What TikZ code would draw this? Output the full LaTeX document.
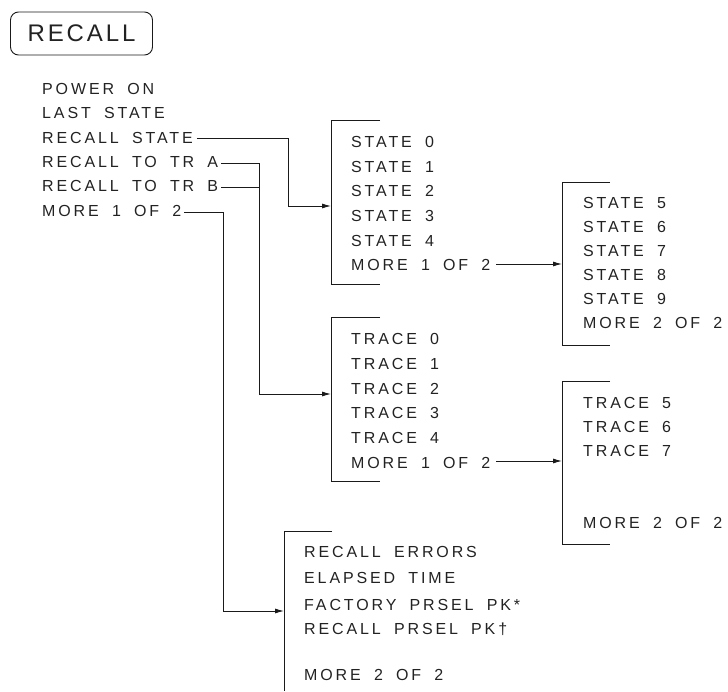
\documentclass[tikz,border=0pt]{standalone}
\usepackage{fontspec}
\setmainfont{Liberation Sans}[LetterSpace=18,WordSpace=1.8]
\usetikzlibrary{arrows.meta}
\definecolor{txt}{HTML}{222222}
\definecolor{ln}{HTML}{1A1A1A}
\tikzset{
  item/.style={anchor=west, inner sep=0pt, text height=11.5pt, text depth=0pt,
    font=\fontsize{16}{19}\selectfont, text=txt},
  conn/.style={line width=0.9pt, draw=ln},
  arr/.style={conn, -{Latex[length=9pt,width=5pt]}},
  brk/.style={line width=0.9pt, draw=ln},
  titlebox/.style={draw=ln, line width=0.9pt, rounded corners=8pt, minimum width=142pt,
    minimum height=43pt, inner sep=0pt, font=\fontsize{24}{28}\selectfont\addfontfeature{LetterSpace=12}, text=txt}
}
\begin{document}
\begin{tikzpicture}[x=1pt,y=-1pt]
\useasboundingbox (0,0) rectangle (728,691);

\node[titlebox] (title) at (81.5,33.5) {RECALL};

% left menu
\node[item] (p1)  at (42,88.5)  {POWER ON};
\node[item] (p2)  at (42,112.9) {LAST STATE};
\node[item] (rs)  at (42,137.3) {RECALL STATE};
\node[item] (tra) at (42,161.7) {RECALL TO TR A};
\node[item] (trb) at (42,186.1) {RECALL TO TR B};
\node[item] (m12) at (42,210.5) {MORE 1 OF 2};

% state menu 1
\node[item] (s0) at (351,142)   {STATE 0};
\node[item] (s1) at (351,166.6) {STATE 1};
\node[item] (s2) at (351,191.2) {STATE 2};
\node[item] (s3) at (351,215.8) {STATE 3};
\node[item] (s4) at (351,240.4) {STATE 4};
\node[item] (sm) at (351,265)   {MORE 1 OF 2};

% state menu 2
\node[item] (s5) at (583,203)   {STATE 5};
\node[item] (s6) at (583,227)   {STATE 6};
\node[item] (s7) at (583,251)   {STATE 7};
\node[item] (s8) at (583,275)   {STATE 8};
\node[item] (s9) at (583,298.5) {STATE 9};
\node[item] (sm2) at (583,322.5) {MORE 2 OF 2};

% trace menu 1
\node[item] (t0) at (351,339)   {TRACE 0};
\node[item] (t1) at (351,363.7) {TRACE 1};
\node[item] (t2) at (351,388.4) {TRACE 2};
\node[item] (t3) at (351,413.1) {TRACE 3};
\node[item] (t4) at (351,437.8) {TRACE 4};
\node[item] (tm) at (351,462.5) {MORE 1 OF 2};

% trace menu 2
\node[item] (t5) at (583,403) {TRACE 5};
\node[item] (t6) at (583,427) {TRACE 6};
\node[item] (t7) at (583,451) {TRACE 7};
\node[item] (tm2) at (583,523) {MORE 2 OF 2};

% more menu
\node[item] (re) at (304,551.5) {RECALL ERRORS};
\node[item] (et) at (304,578)   {ELAPSED TIME};
\node[item] (fp) at (304,605)   {FACTORY PRSEL PK*};
\node[item] (rp) at (304,628.5) {RECALL PRSEL PK†};
\node[item] (bm) at (304,675)   {MORE 2 OF 2};

% brackets
\coordinate (sbt) at (331,120); \coordinate (sbb) at (331,284);
\draw[brk] (380,120) -- (sbt) -- (sbb) -- (380,284);
\coordinate (s2t) at (562,182); \coordinate (s2b) at (562,345);
\draw[brk] (610,182) -- (s2t) -- (s2b) -- (610,345);
\coordinate (tbt) at (331,317); \coordinate (tbb) at (331,481);
\draw[brk] (380,317) -- (tbt) -- (tbb) -- (380,481);
\coordinate (t2t) at (562,381); \coordinate (t2b) at (562,544);
\draw[brk] (610,381) -- (t2t) -- (t2b) -- (610,544);
\coordinate (bbt) at (284,531); \coordinate (bbb) at (284,691);
\draw[brk] (332,531) -- (bbt) -- (bbb);

% entry points
\coordinate (sin) at (331,206);
\coordinate (s2in) at (562,264);
\coordinate (tin) at (331,394);
\coordinate (t2in) at (562,461);
\coordinate (bin) at (284,611);

% bends
\coordinate (k1) at (288,206);
\coordinate (k2) at (259,394);
\coordinate (k3) at (223,611);

% connectors
\draw[arr] ([xshift=4pt,yshift=-1.5pt]rs.east) -| (k1) -- (sin);
\draw[arr] ([xshift=3pt,yshift=-1.5pt]tra.east) -| (k2) -- (tin);
\draw[conn] ([xshift=3pt,yshift=-1.5pt]trb.east) -- ([yshift=-1.5pt]trb.east -| k2);
\draw[arr] ([xshift=3pt,yshift=-1.5pt]m12.east) -| (k3) -- (bin);
\draw[arr] ([xshift=6pt]sm.east |- s2in) -- (s2in);
\draw[arr] ([xshift=6pt]tm.east |- t2in) -- (t2in);
\end{tikzpicture}
\end{document}
